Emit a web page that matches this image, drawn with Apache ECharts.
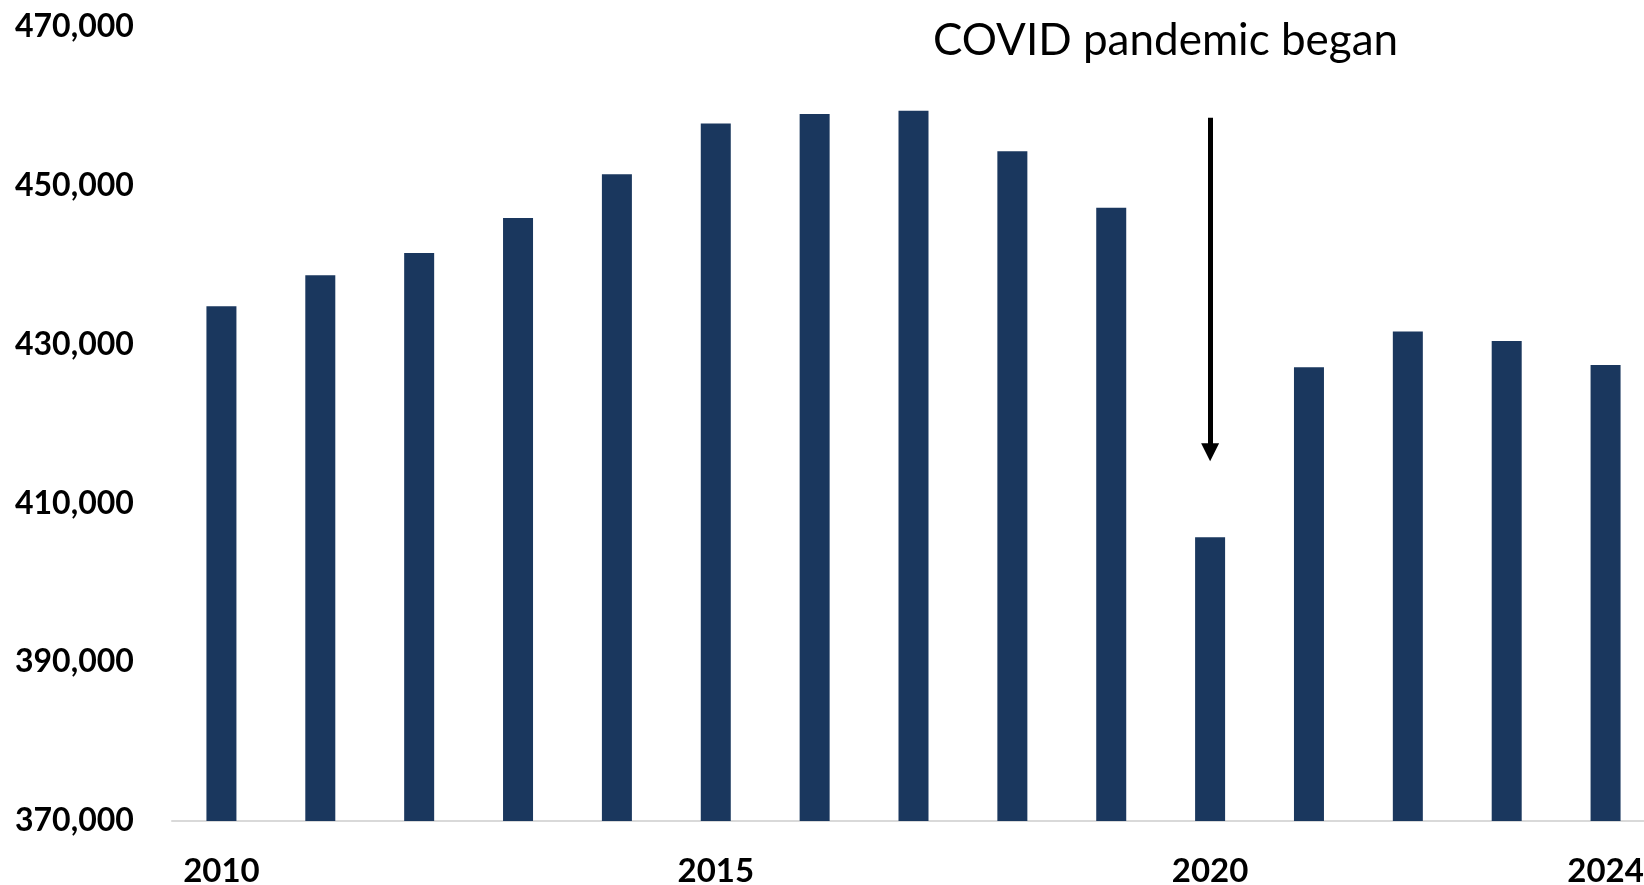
<!DOCTYPE html>
<html>
<head>
<meta charset="utf-8">
<script src="https://cdn.jsdelivr.net/npm/echarts@6/dist/echarts.min.js"></script>
<style>
html,body{margin:0;padding:0;background:#fff;}
#chart{width:1644px;height:885px;}
</style>
</head>
<body>
<div id="chart"></div>
<script>
const years = ['2010','2011','2012','2013','2014','2015','2016','2017','2018','2019','2020','2021','2022','2023','2024'];
const values = [434800, 438700, 441500, 445900, 451400, 457800, 459000, 459400, 454300, 447200, 405700, 427100, 431600, 430400, 427400];
const shownYearLabels = ['2010','2015','2020','2024'];
const annotationText = 'COVID pandemic began';
const annotationYear = '2020';
const arrowFrom = 458500;
const arrowTo = 416400;

const chart = echarts.init(document.getElementById('chart'));
chart.setOption({
  animation: false,
  backgroundColor: '#ffffff',
  title: {
    text: annotationText,
    left: 928,
    top: 14,
    textStyle: { fontFamily: 'Lato', fontSize: 44, fontWeight: 'normal', color: '#000' }
  },
  grid: { left: 172, right: -11, top: 26.5, bottom: 64, containLabel: false, outerBoundsMode: 'none' },
  xAxis: {
    type: 'category',
    data: years,
    boundaryGap: true,
    axisLine: { show: true, lineStyle: { color: '#d9d9d9', width: 2 } },
    axisTick: { show: false },
    axisLabel: {
      interval: function (i, v) { return shownYearLabels.indexOf(v) >= 0; },
      margin: 34,
      hideOverlap: false,
      fontFamily: 'Lato', fontWeight: 'bold', fontSize: 33, color: '#000'
    },
    splitLine: { show: false }
  },
  yAxis: {
    type: 'value',
    min: 370000, max: 470000, interval: 20000,
    axisLine: { show: false },
    axisTick: { show: false },
    splitLine: { show: false },
    axisLabel: {
      align: 'left',
      margin: 157,
      fontFamily: 'Lato', fontWeight: 'bold', fontSize: 32, color: '#000',
      formatter: function (v) { return v.toLocaleString('en-US'); }
    }
  },
  series: [{
    type: 'bar',
    data: values,
    barWidth: 30,
    itemStyle: { color: '#1a375e' },
    markLine: {
      silent: true,
      symbol: ['none', 'triangle'],
      symbolSize: [18, 18],
      label: { show: false },
      lineStyle: { color: '#000', width: 5, type: 'solid' },
      data: [[ { coord: [annotationYear, arrowFrom] }, { coord: [annotationYear, arrowTo] } ]]
    }
  }]
});
</script>
</body>
</html>
